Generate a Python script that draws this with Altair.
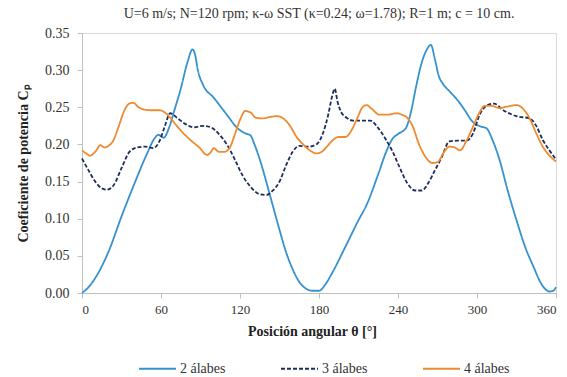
import altair as alt
import pandas as pd

title_text = "U=6 m/s; N=120 rpm; κ-ω SST (κ=0.24; ω=1.78); R=1 m; c = 10 cm."
series_names = ["2 álabes", "3 álabes", "4 álabes"]
x_ticks = [0, 60, 120, 180, 240, 300, 360]
y_ticks = [0.00, 0.05, 0.10, 0.15, 0.20, 0.25, 0.30, 0.35]

theta_2 = [0, 5, 10, 20, 30, 40, 50, 55, 58, 62, 66, 70, 75, 80, 84, 86, 88, 92, 100, 110,
           118, 124, 128, 131, 135, 143, 150, 155, 160, 165, 170, 175, 180, 185, 190, 200,
           210, 216, 225, 231, 236, 240, 246, 250, 254, 258, 262, 265, 268, 271, 274, 280,
           285, 290, 297, 303, 307, 312, 317, 323, 330, 337, 343, 348, 352, 355, 358, 360]
cp_2 = [0.000, 0.008, 0.020, 0.055, 0.103, 0.148, 0.190, 0.208, 0.213, 0.209, 0.222, 0.245,
        0.275, 0.310, 0.328, 0.320, 0.300, 0.280, 0.263, 0.240, 0.222, 0.215, 0.212, 0.200,
        0.180, 0.130, 0.085, 0.055, 0.032, 0.015, 0.006, 0.003, 0.003, 0.012, 0.027, 0.062,
        0.098, 0.118, 0.160, 0.190, 0.208, 0.214, 0.222, 0.245, 0.280, 0.310, 0.328, 0.334,
        0.315, 0.292, 0.282, 0.270, 0.260, 0.248, 0.230, 0.224, 0.222, 0.205, 0.180, 0.140,
        0.098, 0.060, 0.035, 0.015, 0.005, 0.002, 0.003, 0.008]

theta_3 = [0, 5, 10, 15, 19, 24, 30, 36, 42, 48, 54, 59, 63, 67, 72, 78, 85, 92, 98, 104,
           110, 116, 122, 128, 135, 140, 145, 150, 155, 160, 165, 172, 178, 183, 187, 190,
           192, 194, 197, 201, 206, 213, 219, 225, 231, 236, 241, 247, 253, 258, 263, 268,
           273, 279, 285, 292, 297, 302, 307, 313, 320, 330, 340, 345, 350, 355, 360]
cp_3 = [0.181, 0.165, 0.150, 0.141, 0.139, 0.145, 0.168, 0.190, 0.196, 0.197, 0.195, 0.205,
        0.225, 0.242, 0.236, 0.228, 0.223, 0.225, 0.223, 0.214, 0.200, 0.180, 0.158, 0.143,
        0.133, 0.132, 0.138, 0.150, 0.172, 0.190, 0.198, 0.197, 0.200, 0.215, 0.240, 0.265,
        0.275, 0.258, 0.243, 0.236, 0.232, 0.232, 0.232, 0.222, 0.206, 0.190, 0.170, 0.148,
        0.138, 0.138, 0.148, 0.165, 0.182, 0.204, 0.205, 0.205, 0.215, 0.240, 0.252, 0.255,
        0.246, 0.238, 0.235, 0.225, 0.206, 0.192, 0.180]

theta_4 = [0, 3, 6, 10, 14, 17, 20, 24, 28, 32, 36, 39, 43, 47, 53, 59, 63, 67, 72, 77, 83,
           89, 95, 98, 100, 104, 108, 112, 116, 120, 124, 128, 132, 137, 143, 148, 152, 158,
           163, 168, 173, 178, 182, 186, 190, 195, 200, 205, 209, 213, 216, 220, 226, 232,
           239, 243, 247, 251, 256, 261, 266, 270, 275, 279, 283, 287, 292, 297, 301, 306,
           311, 317, 323, 330, 335, 340, 345, 350, 355, 360]
cp_4 = [0.192, 0.188, 0.185, 0.190, 0.199, 0.196, 0.198, 0.206, 0.225, 0.245, 0.255, 0.256,
        0.250, 0.247, 0.246, 0.246, 0.243, 0.236, 0.225, 0.215, 0.205, 0.196, 0.186, 0.190,
        0.195, 0.190, 0.190, 0.195, 0.213, 0.233, 0.245, 0.243, 0.236, 0.235, 0.237, 0.238,
        0.236, 0.225, 0.210, 0.200, 0.192, 0.188, 0.190, 0.197, 0.205, 0.210, 0.210, 0.220,
        0.235, 0.250, 0.253, 0.248, 0.240, 0.240, 0.242, 0.240, 0.236, 0.225, 0.200, 0.183,
        0.175, 0.176, 0.190, 0.197, 0.196, 0.192, 0.205, 0.224, 0.240, 0.252, 0.252, 0.249,
        0.251, 0.253, 0.248, 0.235, 0.215, 0.197, 0.185, 0.177]

frames = []
for name, th, cp in zip(series_names, [theta_2, theta_3, theta_4], [cp_2, cp_3, cp_4]):
    frames.append(pd.DataFrame({"theta": th, "cp": cp, "serie": name}))
df = pd.concat(frames, ignore_index=True)

colors = ["#3592cf", "#1f2d5c", "#ee8a2f"]
dashes = [[1, 0], [4, 2], [1, 0]]

serif = "Liberation Serif"

legend_kw = dict(title=None, orient="none", direction="horizontal",
                 legendX=56, legendY=316, symbolType="stroke",
                 symbolSize=1369, symbolStrokeWidth=1.8, labelOffset=3,
                 columnPadding=51, labelFont=serif, labelFontSize=14,
                 labelColor="#333333")

chart = alt.Chart(df).mark_line(strokeWidth=1.8, interpolate="monotone").encode(
    x=alt.X("theta:Q",
            scale=alt.Scale(domain=[0, 360], nice=False, zero=False),
            axis=alt.Axis(values=x_ticks, title="Posición angular θ [°]", format="d",
                          titleX=230, titleAnchor="middle")),
    y=alt.Y("cp:Q",
            scale=alt.Scale(domain=[0, 0.35], nice=False),
            axis=alt.Axis(values=y_ticks, title="Coeficiente de potencia Cₚ", format=".2f")),
    color=alt.Color("serie:N",
                    scale=alt.Scale(domain=series_names, range=colors),
                    legend=alt.Legend(**legend_kw)),
    strokeDash=alt.StrokeDash("serie:N",
                              scale=alt.Scale(domain=series_names, range=dashes),
                              legend=alt.Legend(**legend_kw)),
    order=alt.Order("theta:Q"),
).properties(
    width=474,
    height=260,
    title=alt.TitleParams(title_text, font=serif, fontSize=14, fontWeight="normal",
                          color="#333333", anchor="middle", offset=5),
    autosize=alt.AutoSizeParams(type="none"),
    padding={"left": 82, "top": 33, "right": 11, "bottom": 84},
).configure(
    font=serif
).configure_view(
    stroke="#d9d9d9", strokeWidth=1
).configure_axis(
    grid=False,
    domainColor="#bfbfbf",
    tickColor="#bfbfbf",
    tickSize=5,
    labelFont=serif,
    labelFontSize=13,
    labelColor="#333333",
    titleFont=serif,
    titleFontSize=14,
    titleFontWeight="bold",
    titleColor="#222222",
).configure_axisX(
    labelPadding=5,
    titlePadding=8,
).configure_axisY(
    labelPadding=8,
    labelFontSize=14,
    titlePadding=14,
)

chart.save("out.html", embed_options={"renderer": "svg", "actions": False})
